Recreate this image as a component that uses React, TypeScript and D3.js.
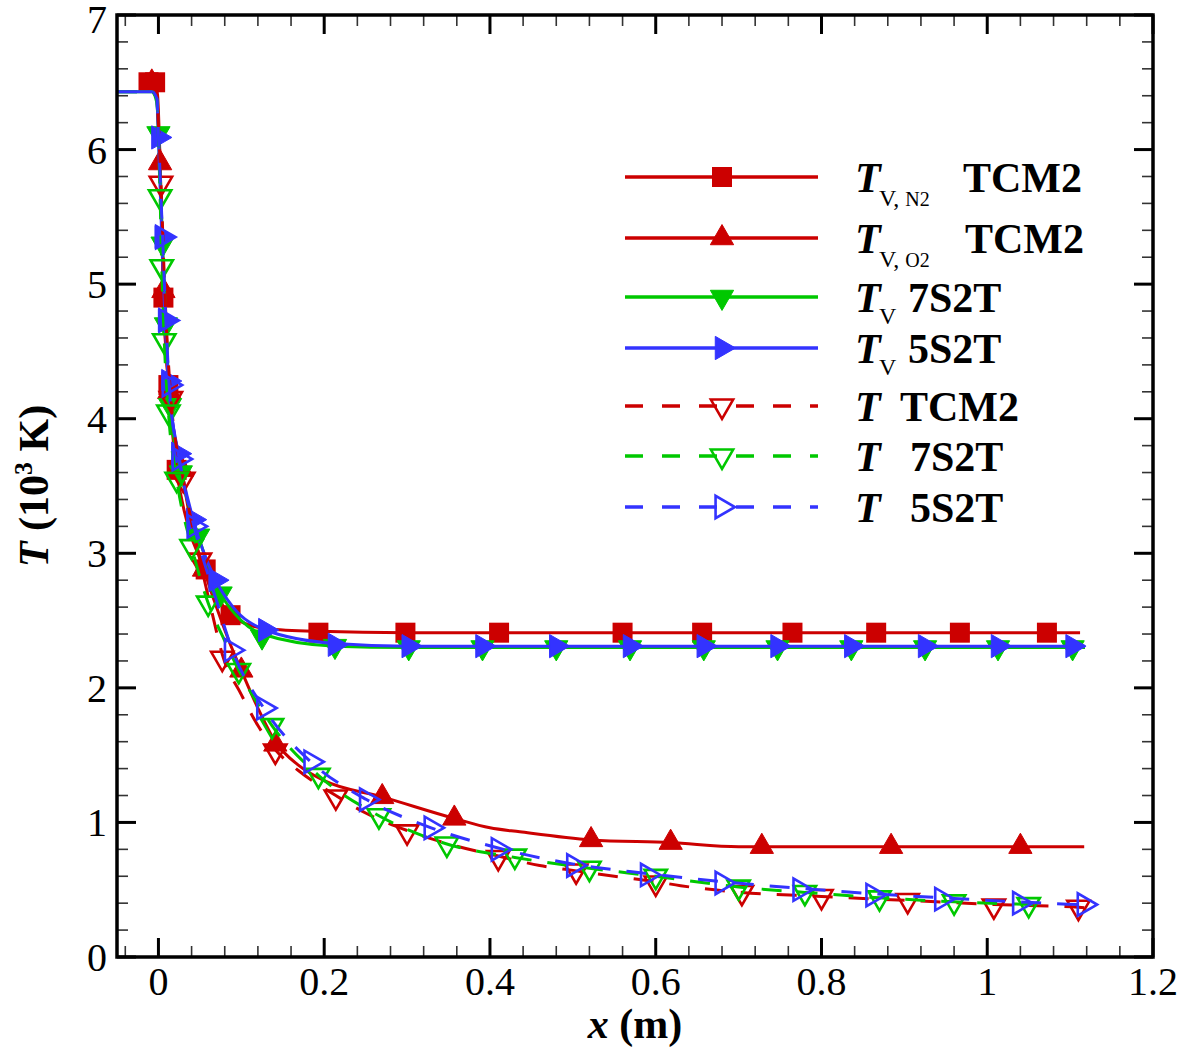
import React from "react";
import * as d3 from "d3";

type P = [number, number];

// ---------- data (x in m, T in 10^3 K) ----------
const xTickValues = [0, 0.2, 0.4, 0.6, 0.8, 1, 1.2];
const xTickLabels = ["0", "0.2", "0.4", "0.6", "0.8", "1", "1.2"];
const yTickValues = [0, 1, 2, 3, 4, 5, 6, 7];
const yTickLabels = ["0", "1", "2", "3", "4", "5", "6", "7"];

// Tv,N2 TCM2 (red, filled squares)
const tvN2Line: P[] = [[-0.012, 6.5], [-0.004, 6.5], [-0.001, 6.4], [0.002, 5.9], [0.006, 4.9], [0.012, 4.25], [0.022, 3.62], [0.035, 3.22], [0.057, 2.88], [0.087, 2.54], [0.13, 2.44], [0.193, 2.42], [0.3, 2.41], [1.112, 2.41]];
const tvN2Marks: P[] = [[-0.012, 6.5], [-0.004, 6.5], [0.006, 4.9], [0.012, 4.25], [0.022, 3.62], [0.057, 2.88], [0.087, 2.54], [0.193, 2.41], [0.298, 2.41], [0.411, 2.41], [0.56, 2.41], [0.656, 2.41], [0.765, 2.41], [0.866, 2.41], [0.967, 2.41], [1.072, 2.41]];

// Tv,O2 TCM2 (red, filled up-triangles)
const tvO2Line: P[] = [[-0.012, 6.5], [-0.004, 6.48], [-0.001, 6.3], [0.002, 5.9], [0.006, 4.95], [0.013, 4.2], [0.028, 3.62], [0.04, 3.2], [0.055, 2.88], [0.07, 2.6], [0.085, 2.35], [0.1, 2.13], [0.12, 1.85], [0.141, 1.6], [0.17, 1.42], [0.2, 1.31], [0.27, 1.19], [0.357, 1.03], [0.4, 0.96], [0.436, 0.93], [0.522, 0.87], [0.618, 0.85], [0.7, 0.82], [1.117, 0.82]];
const tvO2Marks: P[] = [[-0.008, 6.5], [0.002, 5.9], [0.006, 4.95], [0.013, 4.2], [0.028, 3.62], [0.055, 2.88], [0.1, 2.13], [0.141, 1.58], [0.27, 1.19], [0.357, 1.03], [0.522, 0.87], [0.618, 0.85], [0.728, 0.82], [0.884, 0.82], [1.04, 0.82]];

// Tv 7S2T (green, filled down-triangles)
const tv7Line: P[] = [[-0.05, 6.43], [-0.008, 6.43], [-0.002, 6.38], [0.0, 6.12], [0.005, 5.3], [0.009, 4.7], [0.014, 4.1], [0.027, 3.6], [0.048, 3.13], [0.075, 2.7], [0.1, 2.5], [0.125, 2.4], [0.213, 2.31], [0.3, 2.3], [1.118, 2.3]];
const tv7Marks: P[] = [[0.0, 6.12], [0.005, 5.3], [0.009, 4.7], [0.014, 4.1], [0.027, 3.6], [0.048, 3.13], [0.075, 2.7], [0.125, 2.38], [0.213, 2.31], [0.302, 2.3], [0.391, 2.3], [0.48, 2.3], [0.569, 2.3], [0.658, 2.3], [0.747, 2.3], [0.836, 2.3], [0.925, 2.3], [1.013, 2.3], [1.103, 2.3]];

// Tv 5S2T (blue, filled right-triangles)
const tv5Line: P[] = [[-0.05, 6.43], [-0.008, 6.43], [-0.002, 6.38], [0.0, 6.1], [0.004, 5.35], [0.008, 4.73], [0.012, 4.28], [0.024, 3.74], [0.042, 3.25], [0.069, 2.8], [0.09, 2.6], [0.129, 2.43], [0.213, 2.33], [0.302, 2.31], [1.118, 2.31]];
const tv5Marks: P[] = [[0.0, 6.09], [0.004, 5.35], [0.008, 4.73], [0.012, 4.28], [0.024, 3.74], [0.042, 3.25], [0.069, 2.8], [0.129, 2.43], [0.213, 2.32], [0.302, 2.31], [0.391, 2.31], [0.48, 2.31], [0.569, 2.31], [0.658, 2.31], [0.747, 2.31], [0.836, 2.31], [0.925, 2.31], [1.013, 2.31], [1.103, 2.31]];

// T TCM2 (red dashed, open down-triangles)
const tTcmLine: P[] = [[-0.012, 6.5], [-0.004, 6.48], [-0.001, 6.3], [0.003, 5.75], [0.008, 4.9], [0.015, 4.15], [0.03, 3.55], [0.05, 2.95], [0.065, 2.55], [0.077, 2.25], [0.1, 1.95], [0.12, 1.72], [0.141, 1.54], [0.17, 1.38], [0.214, 1.2], [0.25, 1.07], [0.3, 0.94], [0.35, 0.84], [0.41, 0.75], [0.46, 0.68], [0.504, 0.64], [0.55, 0.6], [0.6, 0.56], [0.63, 0.53], [0.704, 0.48], [0.8, 0.45], [0.904, 0.42], [1.008, 0.39], [1.11, 0.37], [1.13, 0.36]];
const tTcmMarks: P[] = [[0.003, 5.75], [0.015, 4.15], [0.03, 3.55], [0.05, 2.95], [0.077, 2.22], [0.141, 1.53], [0.214, 1.19], [0.3, 0.93], [0.41, 0.74], [0.504, 0.64], [0.6, 0.55], [0.704, 0.48], [0.8, 0.45], [0.904, 0.42], [1.008, 0.38], [1.11, 0.37]];

// T 7S2T (green dashed, open down-triangles)
const t7Line: P[] = [[-0.05, 6.43], [-0.008, 6.43], [-0.002, 6.35], [0.002, 5.65], [0.004, 5.13], [0.007, 4.58], [0.012, 4.05], [0.022, 3.55], [0.04, 3.05], [0.06, 2.63], [0.08, 2.35], [0.097, 2.13], [0.137, 1.72], [0.193, 1.35], [0.266, 1.05], [0.348, 0.84], [0.43, 0.74], [0.52, 0.66], [0.6, 0.6], [0.7, 0.52], [0.78, 0.48], [0.87, 0.44], [0.96, 0.41], [1.05, 0.39], [1.07, 0.385]];
const t7Marks: P[] = [[0.002, 5.65], [0.004, 5.13], [0.007, 4.58], [0.012, 4.05], [0.022, 3.55], [0.04, 3.05], [0.06, 2.63], [0.097, 2.13], [0.137, 1.72], [0.193, 1.35], [0.266, 1.05], [0.348, 0.84], [0.43, 0.75], [0.52, 0.66], [0.6, 0.6], [0.7, 0.52], [0.78, 0.48], [0.87, 0.44], [0.96, 0.41], [1.05, 0.39]];

// T 5S2T (blue dashed, open right-triangles)
const t5Line: P[] = [[-0.05, 6.43], [-0.008, 6.43], [-0.002, 6.38], [0.0, 6.1], [0.005, 5.35], [0.009, 4.73], [0.013, 4.25], [0.025, 3.7], [0.043, 3.2], [0.07, 2.65], [0.088, 2.3], [0.127, 1.85], [0.184, 1.45], [0.251, 1.17], [0.329, 0.96], [0.41, 0.81], [0.501, 0.69], [0.59, 0.62], [0.68, 0.56], [0.774, 0.51], [0.862, 0.47], [0.945, 0.44], [1.039, 0.41], [1.117, 0.39], [1.125, 0.39]];
const t5Marks: P[] = [[0.005, 5.35], [0.009, 4.73], [0.013, 4.25], [0.025, 3.7], [0.043, 3.2], [0.088, 2.28], [0.127, 1.85], [0.184, 1.45], [0.251, 1.17], [0.329, 0.96], [0.41, 0.8], [0.501, 0.68], [0.59, 0.61], [0.68, 0.55], [0.774, 0.5], [0.862, 0.46], [0.945, 0.43], [1.039, 0.4], [1.117, 0.39]];

// ---------- styling ----------
const RED = "#cc0000";
const GREEN = "#00c800";
const BLUE = "#3333ff";
const FONT = "'Liberation Serif', 'Times New Roman', Times, serif";

type Shape = "square" | "up" | "down" | "right";
interface Series {
  line: P[];
  marks: P[];
  color: string;
  dashed: boolean;
  shape: Shape;
  filled: boolean;
}

const seriesList: Series[] = [
  { line: tvN2Line, marks: tvN2Marks, color: RED, dashed: false, shape: "square", filled: true },
  { line: tvO2Line, marks: tvO2Marks, color: RED, dashed: false, shape: "up", filled: true },
  { line: tv7Line, marks: tv7Marks, color: GREEN, dashed: false, shape: "down", filled: true },
  { line: tv5Line, marks: tv5Marks, color: BLUE, dashed: false, shape: "right", filled: true },
  { line: tTcmLine, marks: tTcmMarks, color: RED, dashed: true, shape: "down", filled: false },
  { line: t7Line, marks: t7Marks, color: GREEN, dashed: true, shape: "down", filled: false },
  { line: t5Line, marks: t5Marks, color: BLUE, dashed: true, shape: "right", filled: false },
];

const triPath = d3.symbol().type(d3.symbolTriangle).size(235)() as string;
const openTriPath = d3.symbol().type(d3.symbolTriangle).size(215)() as string;

function Marker({ cx, cy, shape, filled, color }: { cx: number; cy: number; shape: Shape; filled: boolean; color: string }) {
  if (shape === "square") {
    return <rect x={cx - 10} y={cy - 10} width={20} height={20} fill={color} />;
  }
  const rot = shape === "up" ? 0 : shape === "down" ? 180 : 90;
  return (
    <path
      d={filled ? triPath : openTriPath}
      transform={`translate(${cx},${cy}) rotate(${rot})`}
      fill={filled ? color : "none"}
      stroke={color}
      strokeWidth={filled ? 1 : 2.6}
      strokeLinejoin="miter"
    />
  );
}

export default function App() {
  const W = 1181;
  const H = 1047;
  const L = 117, R = 1153, TOP = 15, B = 957;

  const x = d3.scaleLinear().domain([-0.05, 1.2]).range([L, R]);
  const y = d3.scaleLinear().domain([0, 7]).range([B, TOP]);

  const lineGen = d3
    .line<P>()
    .x((d) => x(d[0]))
    .y((d) => y(d[1]))
    .curve(d3.curveMonotoneX);

  const xMinor = d3.range(-1, 31).map((i) => i * 0.04).filter((v) => Math.abs(v / 0.2 - Math.round(v / 0.2)) > 1e-6 && v > -0.05 && v < 1.2);
  const yMinor = d3.range(0, 36).map((i) => i * 0.2).filter((v) => Math.abs(v - Math.round(v)) > 1e-6 && v < 7);

  const MAJ = 19, MIN = 11;

  // legend layout
  const legX0 = 625, legX1 = 818, legM = 722;
  const legRows = [177, 238, 297, 348, 406, 456, 507];

  const legendText = (i: number, ry: number) => {
    const base = ry + 15;
    const Tt = (
      <tspan fontStyle="italic" fontWeight="bold">T</tspan>
    );
    switch (i) {
      case 0:
      case 1:
        return (
          <>
            <text x={855} y={base} fontSize={42} fontFamily={FONT}>{Tt}</text>
            <text x={879} y={ry + 29} fontFamily={FONT}>
              <tspan fontSize={24}>V, </tspan>
              <tspan fontSize={20}>{i === 0 ? "N2" : "O2"}</tspan>
            </text>
            <text x={i === 0 ? 963 : 965} y={base} fontSize={42} fontWeight="bold" fontFamily={FONT}>TCM2</text>
          </>
        );
      case 2:
      case 3:
        return (
          <>
            <text x={855} y={base} fontSize={42} fontFamily={FONT}>{Tt}</text>
            <text x={879} y={ry + 27} fontSize={24} fontFamily={FONT}>V</text>
            <text x={908} y={base} fontSize={42} fontWeight="bold" fontFamily={FONT}>{i === 2 ? "7S2T" : "5S2T"}</text>
          </>
        );
      default:
        return (
          <>
            <text x={855} y={base} fontSize={42} fontFamily={FONT}>{Tt}</text>
            <text x={i === 4 ? 900 : 910} y={base} fontSize={42} fontWeight="bold" fontFamily={FONT}>
              {i === 4 ? "TCM2" : i === 5 ? "7S2T" : "5S2T"}
            </text>
          </>
        );
    }
  };

  return (
    <svg
      width={W}
      height={H}
      viewBox={`0 0 ${W} ${H}`}
      style={{ position: "absolute", left: 0, top: 0, background: "#fff" }}
    >
      <rect x={0} y={0} width={W} height={H} fill="#fff" />
      <defs>
        <clipPath id="plotClip">
          <rect x={L} y={TOP} width={R - L} height={B - TOP} />
        </clipPath>
      </defs>

      {/* minor ticks */}
      <g stroke="#333" strokeWidth={1.6}>
        {xMinor.map((v, i) => (
          <g key={"xm" + i}>
            <line x1={x(v)} x2={x(v)} y1={B} y2={B - MIN} />
            <line x1={x(v)} x2={x(v)} y1={TOP} y2={TOP + MIN} />
          </g>
        ))}
        {yMinor.map((v, i) => (
          <g key={"ym" + i}>
            <line x1={L} x2={L + MIN} y1={y(v)} y2={y(v)} />
            <line x1={R} x2={R - MIN} y1={y(v)} y2={y(v)} />
          </g>
        ))}
      </g>
      {/* major ticks */}
      <g stroke="#000" strokeWidth={3}>
        {xTickValues.map((v, i) => (
          <g key={"xM" + i}>
            <line x1={x(v)} x2={x(v)} y1={B} y2={B - MAJ} />
            <line x1={x(v)} x2={x(v)} y1={TOP} y2={TOP + MAJ} />
          </g>
        ))}
        {yTickValues.map((v, i) => (
          <g key={"yM" + i}>
            <line x1={L} x2={L + MAJ} y1={y(v)} y2={y(v)} />
            <line x1={R} x2={R - MAJ} y1={y(v)} y2={y(v)} />
          </g>
        ))}
      </g>

      {/* tick labels */}
      <g fontFamily={FONT} fontSize={40} fill="#000">
        {xTickValues.map((v, i) => (
          <text key={"xl" + i} x={x(v)} y={995} textAnchor="middle">
            {xTickLabels[i]}
          </text>
        ))}
        {yTickValues.map((v, i) => (
          <text key={"yl" + i} x={107} y={Math.max(y(v) + 14, 33)} textAnchor="end">
            {yTickLabels[i]}
          </text>
        ))}
      </g>

      {/* axis titles */}
      <text x={(L + R) / 2} y={1038} textAnchor="middle" fontFamily={FONT} fontSize={42} fontWeight="bold">
        <tspan fontStyle="italic">x</tspan> (m)
      </text>
      <text
        transform={`translate(48,${(TOP + B) / 2}) rotate(-90)`}
        textAnchor="middle"
        fontFamily={FONT}
        fontSize={42}
        fontWeight="bold"
      >
        <tspan fontStyle="italic">T</tspan> (10
        <tspan fontSize={26} dy={-16}>3</tspan>
        <tspan dy={16}> K)</tspan>
      </text>

      {/* data */}
      <g clipPath="url(#plotClip)">
        {seriesList.map((s, i) => (
          <g key={"s" + i}>
            <path
              d={lineGen(s.line) || ""}
              fill="none"
              stroke={s.color}
              strokeWidth={3}
              strokeDasharray={s.dashed ? "20 16" : undefined}
            />
            {s.marks.map((m, j) => (
              <Marker key={j} cx={x(m[0])} cy={y(m[1])} shape={s.shape} filled={s.filled} color={s.color} />
            ))}
          </g>
        ))}
      </g>

      {/* frame */}
      <rect x={L} y={TOP} width={R - L} height={B - TOP} fill="none" stroke="#000" strokeWidth={3.5} />

      {/* legend */}
      {seriesList.map((s, i) => (
        <g key={"lg" + i}>
          <line
            x1={legX0}
            x2={legX1}
            y1={legRows[i]}
            y2={legRows[i]}
            stroke={s.color}
            strokeWidth={3.5}
            strokeDasharray={s.dashed ? "18 19" : undefined}
          />
          <Marker cx={legM} cy={legRows[i]} shape={s.shape} filled={s.filled} color={s.color} />
          {legendText(i, legRows[i])}
        </g>
      ))}
    </svg>
  );
}
